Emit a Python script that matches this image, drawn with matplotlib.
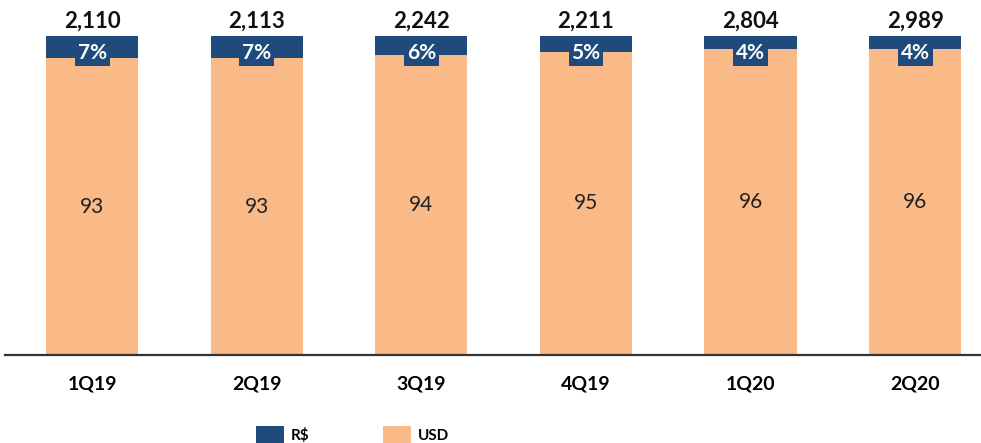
import matplotlib.pyplot as plt
from matplotlib.patches import Patch

# data
quarters = ['1Q19', '2Q19', '3Q19', '4Q19', '1Q20', '2Q20']
totals = ['2,110', '2,113', '2,242', '2,211', '2,804', '2,989']
usd_share = [93, 93, 94, 95, 96, 96]
brl_share = [7, 7, 6, 5, 4, 4]

blue = '#1F4A7C'
orange = '#F9BA87'

plt.rcParams['font.family'] = ['Lato', 'DejaVu Sans']

fig = plt.figure(figsize=(9.81, 4.43), dpi=100)
ax = fig.add_axes([5 / 981, 88 / 443, 976 / 981, 319 / 443])

x = list(range(len(quarters)))
ax.bar(x, usd_share, width=0.56, color=orange)
ax.bar(x, brl_share, width=0.56, bottom=usd_share, color=blue)

for i in x:
    ax.text(i, usd_share[i] / 2, str(usd_share[i]), ha='center', va='center',
            fontsize=15, color='#222222')
    ax.text(i, 94.8, '%d%%' % brl_share[i], ha='center', va='center',
            fontsize=15, fontweight='bold', color='white',
            bbox=dict(facecolor=blue, edgecolor='none', boxstyle='square,pad=0.14'))
    ax.text(i, 104.6, totals[i], ha='center', va='center', fontsize=16,
            fontweight='bold', color='#111111', clip_on=False)

ax.set_xlim(-0.53, 5.40)
ax.set_ylim(0, 100)
ax.set_xticks(x)
ax.set_xticklabels(quarters, fontsize=14, fontweight='bold')
ax.tick_params(axis='x', length=0, pad=15)
ax.set_yticks([])
for s in ['top', 'right', 'left']:
    ax.spines[s].set_visible(False)
ax.spines['bottom'].set_color('#333333')
ax.spines['bottom'].set_linewidth(1.6)

handles = [Patch(facecolor=blue, label=r'R\$'), Patch(facecolor=orange, label='USD')]
fig.legend(handles=handles, loc='upper left', bbox_to_anchor=(248 / 981, 1 - 418 / 443),
           ncol=2, frameon=False, prop={'weight': 'bold', 'size': 11}, borderpad=0,
           handlelength=1.85, handleheight=1.6, columnspacing=4.8, handletextpad=0.45)

fig.savefig('out.png', dpi=100)
